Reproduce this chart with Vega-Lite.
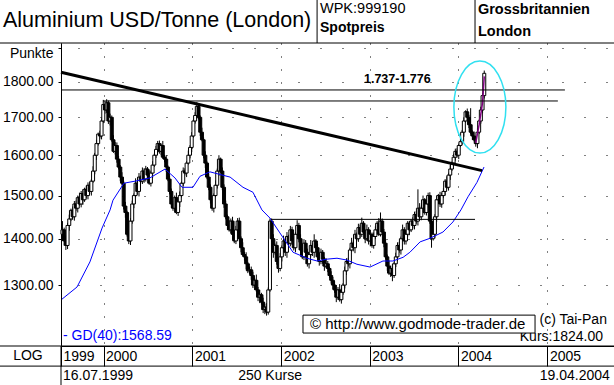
{
"$schema": "https://vega.github.io/schema/vega-lite/v6.json",
"width": 553, "height": 303,
"autosize": {"type": "none"},
"padding": {"left": 61, "top": 43, "right": 0, "bottom": 39},
"background": "white",
"config": {"view": {"stroke": null}, "font": "Liberation Sans", "text": {"font": "Liberation Sans", "color": "black"}},
"datasets": {
"px": [
{"d":"1999-07-16","o":1410,"h":1440,"l":1395,"c":1420},
{"d":"1999-07-23","o":1420,"h":1425,"l":1385,"c":1395},
{"d":"1999-07-30","o":1395,"h":1407,"l":1375,"c":1385},
{"d":"1999-08-06","o":1385,"h":1436,"l":1377,"c":1430},
{"d":"1999-08-13","o":1430,"h":1455,"l":1418,"c":1445},
{"d":"1999-08-20","o":1445,"h":1469,"l":1440,"c":1465},
{"d":"1999-08-27","o":1465,"h":1474,"l":1443,"c":1450},
{"d":"1999-09-03","o":1450,"h":1487,"l":1441,"c":1480},
{"d":"1999-09-10","o":1480,"h":1488,"l":1464,"c":1470},
{"d":"1999-09-17","o":1470,"h":1500,"l":1460,"c":1495},
{"d":"1999-09-24","o":1495,"h":1507,"l":1476,"c":1480},
{"d":"1999-10-01","o":1480,"h":1511,"l":1472,"c":1505},
{"d":"1999-10-08","o":1505,"h":1515,"l":1478,"c":1490},
{"d":"1999-10-15","o":1490,"h":1519,"l":1485,"c":1515},
{"d":"1999-10-22","o":1515,"h":1524,"l":1493,"c":1500},
{"d":"1999-10-29","o":1500,"h":1532,"l":1491,"c":1525},
{"d":"1999-11-05","o":1525,"h":1533,"l":1504,"c":1510},
{"d":"1999-11-12","o":1510,"h":1540,"l":1500,"c":1535},
{"d":"1999-11-19","o":1535,"h":1572,"l":1531,"c":1560},
{"d":"1999-11-26","o":1560,"h":1606,"l":1552,"c":1600},
{"d":"1999-12-03","o":1600,"h":1640,"l":1588,"c":1630},
{"d":"1999-12-10","o":1630,"h":1659,"l":1625,"c":1655},
{"d":"1999-12-17","o":1655,"h":1664,"l":1643,"c":1650},
{"d":"1999-12-24","o":1650,"h":1697,"l":1641,"c":1690},
{"d":"1999-12-31","o":1690,"h":1748,"l":1684,"c":1735},
{"d":"2000-01-07","o":1735,"h":1745,"l":1710,"c":1720},
{"d":"2000-01-14","o":1720,"h":1750,"l":1712,"c":1740},
{"d":"2000-01-21","o":1740,"h":1746,"l":1682,"c":1690},
{"d":"2000-01-28","o":1690,"h":1710,"l":1678,"c":1700},
{"d":"2000-02-04","o":1700,"h":1705,"l":1635,"c":1640},
{"d":"2000-02-11","o":1640,"h":1652,"l":1606,"c":1610},
{"d":"2000-02-18","o":1610,"h":1634,"l":1602,"c":1625},
{"d":"2000-02-25","o":1625,"h":1633,"l":1581,"c":1590},
{"d":"2000-03-03","o":1590,"h":1598,"l":1564,"c":1570},
{"d":"2000-03-10","o":1570,"h":1575,"l":1535,"c":1545},
{"d":"2000-03-17","o":1545,"h":1557,"l":1526,"c":1530},
{"d":"2000-03-24","o":1530,"h":1536,"l":1467,"c":1475},
{"d":"2000-03-31","o":1475,"h":1485,"l":1448,"c":1460},
{"d":"2000-04-07","o":1460,"h":1464,"l":1405,"c":1410},
{"d":"2000-04-14","o":1410,"h":1419,"l":1388,"c":1395},
{"d":"2000-04-21","o":1395,"h":1447,"l":1386,"c":1440},
{"d":"2000-04-28","o":1440,"h":1488,"l":1434,"c":1480},
{"d":"2000-05-05","o":1480,"h":1505,"l":1470,"c":1500},
{"d":"2000-05-12","o":1500,"h":1542,"l":1496,"c":1530},
{"d":"2000-05-19","o":1530,"h":1536,"l":1502,"c":1510},
{"d":"2000-05-26","o":1510,"h":1555,"l":1498,"c":1545},
{"d":"2000-06-02","o":1545,"h":1549,"l":1530,"c":1535},
{"d":"2000-06-09","o":1535,"h":1569,"l":1528,"c":1560},
{"d":"2000-06-16","o":1560,"h":1567,"l":1531,"c":1540},
{"d":"2000-06-23","o":1540,"h":1573,"l":1534,"c":1565},
{"d":"2000-06-30","o":1565,"h":1570,"l":1540,"c":1550},
{"d":"2000-07-07","o":1550,"h":1562,"l":1526,"c":1530},
{"d":"2000-07-14","o":1530,"h":1561,"l":1522,"c":1555},
{"d":"2000-07-21","o":1555,"h":1585,"l":1543,"c":1575},
{"d":"2000-07-28","o":1575,"h":1604,"l":1570,"c":1600},
{"d":"2000-08-04","o":1600,"h":1624,"l":1593,"c":1615},
{"d":"2000-08-11","o":1615,"h":1637,"l":1606,"c":1630},
{"d":"2000-08-18","o":1630,"h":1638,"l":1604,"c":1610},
{"d":"2000-08-25","o":1610,"h":1630,"l":1600,"c":1625},
{"d":"2000-09-01","o":1625,"h":1637,"l":1591,"c":1595},
{"d":"2000-09-08","o":1595,"h":1601,"l":1582,"c":1590},
{"d":"2000-09-15","o":1590,"h":1600,"l":1558,"c":1570},
{"d":"2000-09-22","o":1570,"h":1574,"l":1535,"c":1540},
{"d":"2000-09-29","o":1540,"h":1549,"l":1503,"c":1510},
{"d":"2000-10-06","o":1510,"h":1517,"l":1471,"c":1480},
{"d":"2000-10-13","o":1480,"h":1488,"l":1464,"c":1470},
{"d":"2000-10-20","o":1470,"h":1500,"l":1460,"c":1495},
{"d":"2000-10-27","o":1495,"h":1507,"l":1456,"c":1460},
{"d":"2000-11-03","o":1460,"h":1491,"l":1452,"c":1485},
{"d":"2000-11-10","o":1485,"h":1510,"l":1473,"c":1500},
{"d":"2000-11-17","o":1500,"h":1534,"l":1495,"c":1530},
{"d":"2000-11-24","o":1530,"h":1569,"l":1523,"c":1560},
{"d":"2000-12-01","o":1560,"h":1567,"l":1549,"c":1555},
{"d":"2000-12-08","o":1555,"h":1585,"l":1545,"c":1580},
{"d":"2000-12-15","o":1580,"h":1612,"l":1576,"c":1600},
{"d":"2000-12-22","o":1600,"h":1626,"l":1592,"c":1620},
{"d":"2000-12-29","o":1620,"h":1660,"l":1608,"c":1650},
{"d":"2001-01-05","o":1650,"h":1694,"l":1645,"c":1690},
{"d":"2001-01-12","o":1690,"h":1714,"l":1683,"c":1705},
{"d":"2001-01-19","o":1705,"h":1742,"l":1696,"c":1730},
{"d":"2001-01-26","o":1730,"h":1738,"l":1694,"c":1700},
{"d":"2001-02-02","o":1700,"h":1705,"l":1650,"c":1660},
{"d":"2001-02-09","o":1660,"h":1672,"l":1636,"c":1640},
{"d":"2001-02-16","o":1640,"h":1646,"l":1592,"c":1600},
{"d":"2001-02-23","o":1600,"h":1610,"l":1568,"c":1580},
{"d":"2001-03-02","o":1580,"h":1584,"l":1540,"c":1545},
{"d":"2001-03-09","o":1545,"h":1554,"l":1513,"c":1520},
{"d":"2001-03-16","o":1520,"h":1527,"l":1481,"c":1490},
{"d":"2001-03-23","o":1490,"h":1498,"l":1464,"c":1470},
{"d":"2001-03-30","o":1470,"h":1505,"l":1460,"c":1500},
{"d":"2001-04-06","o":1500,"h":1537,"l":1496,"c":1525},
{"d":"2001-04-13","o":1525,"h":1566,"l":1517,"c":1560},
{"d":"2001-04-20","o":1560,"h":1600,"l":1548,"c":1590},
{"d":"2001-04-27","o":1590,"h":1594,"l":1555,"c":1560},
{"d":"2001-05-04","o":1560,"h":1569,"l":1513,"c":1520},
{"d":"2001-05-11","o":1520,"h":1527,"l":1471,"c":1480},
{"d":"2001-05-18","o":1480,"h":1488,"l":1444,"c":1450},
{"d":"2001-05-25","o":1450,"h":1455,"l":1420,"c":1430},
{"d":"2001-06-01","o":1430,"h":1442,"l":1416,"c":1420},
{"d":"2001-06-08","o":1420,"h":1446,"l":1412,"c":1440},
{"d":"2001-06-15","o":1440,"h":1450,"l":1398,"c":1410},
{"d":"2001-06-22","o":1410,"h":1414,"l":1390,"c":1395},
{"d":"2001-06-29","o":1395,"h":1429,"l":1388,"c":1420},
{"d":"2001-07-06","o":1420,"h":1447,"l":1411,"c":1440},
{"d":"2001-07-13","o":1440,"h":1448,"l":1394,"c":1400},
{"d":"2001-07-20","o":1400,"h":1405,"l":1370,"c":1380},
{"d":"2001-07-27","o":1380,"h":1392,"l":1361,"c":1365},
{"d":"2001-08-03","o":1365,"h":1371,"l":1352,"c":1360},
{"d":"2001-08-10","o":1360,"h":1370,"l":1333,"c":1345},
{"d":"2001-08-17","o":1345,"h":1349,"l":1325,"c":1330},
{"d":"2001-08-24","o":1330,"h":1339,"l":1323,"c":1332},
{"d":"2001-08-31","o":1332,"h":1339,"l":1311,"c":1320},
{"d":"2001-09-07","o":1320,"h":1328,"l":1294,"c":1300},
{"d":"2001-09-14","o":1300,"h":1315,"l":1290,"c":1310},
{"d":"2001-09-21","o":1310,"h":1322,"l":1286,"c":1290},
{"d":"2001-09-28","o":1290,"h":1296,"l":1267,"c":1275},
{"d":"2001-10-05","o":1275,"h":1290,"l":1263,"c":1280},
{"d":"2001-10-12","o":1280,"h":1284,"l":1260,"c":1265},
{"d":"2001-10-19","o":1265,"h":1274,"l":1243,"c":1250},
{"d":"2001-10-26","o":1250,"h":1262,"l":1241,"c":1255},
{"d":"2001-11-02","o":1255,"h":1263,"l":1238,"c":1245},
{"d":"2001-11-09","o":1245,"h":1295,"l":1240,"c":1290},
{"d":"2001-11-16","o":1290,"h":1446,"l":1286,"c":1440},
{"d":"2001-11-23","o":1440,"h":1446,"l":1392,"c":1400},
{"d":"2001-11-30","o":1400,"h":1410,"l":1358,"c":1370},
{"d":"2001-12-07","o":1370,"h":1389,"l":1365,"c":1385},
{"d":"2001-12-14","o":1385,"h":1394,"l":1343,"c":1350},
{"d":"2001-12-21","o":1350,"h":1357,"l":1326,"c":1335},
{"d":"2001-12-28","o":1335,"h":1368,"l":1329,"c":1360},
{"d":"2002-01-04","o":1360,"h":1385,"l":1350,"c":1380},
{"d":"2002-01-11","o":1380,"h":1407,"l":1376,"c":1395},
{"d":"2002-01-18","o":1395,"h":1401,"l":1362,"c":1370},
{"d":"2002-01-25","o":1370,"h":1415,"l":1358,"c":1405},
{"d":"2002-02-01","o":1405,"h":1409,"l":1385,"c":1390},
{"d":"2002-02-08","o":1390,"h":1429,"l":1383,"c":1420},
{"d":"2002-02-15","o":1420,"h":1427,"l":1386,"c":1395},
{"d":"2002-02-22","o":1395,"h":1403,"l":1374,"c":1380},
{"d":"2002-03-01","o":1380,"h":1415,"l":1370,"c":1410},
{"d":"2002-03-08","o":1410,"h":1442,"l":1406,"c":1430},
{"d":"2002-03-15","o":1430,"h":1436,"l":1392,"c":1400},
{"d":"2002-03-22","o":1400,"h":1410,"l":1363,"c":1375},
{"d":"2002-03-29","o":1375,"h":1379,"l":1355,"c":1360},
{"d":"2002-04-05","o":1360,"h":1399,"l":1353,"c":1390},
{"d":"2002-04-12","o":1390,"h":1397,"l":1361,"c":1370},
{"d":"2002-04-19","o":1370,"h":1378,"l":1339,"c":1345},
{"d":"2002-04-26","o":1345,"h":1370,"l":1335,"c":1365},
{"d":"2002-05-03","o":1365,"h":1397,"l":1361,"c":1385},
{"d":"2002-05-10","o":1385,"h":1391,"l":1362,"c":1370},
{"d":"2002-05-17","o":1370,"h":1410,"l":1358,"c":1395},
{"d":"2002-05-24","o":1395,"h":1399,"l":1375,"c":1380},
{"d":"2002-05-31","o":1380,"h":1389,"l":1353,"c":1360},
{"d":"2002-06-07","o":1360,"h":1367,"l":1341,"c":1350},
{"d":"2002-06-14","o":1350,"h":1378,"l":1344,"c":1370},
{"d":"2002-06-21","o":1370,"h":1375,"l":1345,"c":1355},
{"d":"2002-06-28","o":1355,"h":1360,"l":1330,"c":1340},
{"d":"2002-07-05","o":1340,"h":1357,"l":1336,"c":1345},
{"d":"2002-07-12","o":1345,"h":1351,"l":1327,"c":1335},
{"d":"2002-07-19","o":1335,"h":1339,"l":1315,"c":1320},
{"d":"2002-07-26","o":1320,"h":1329,"l":1303,"c":1310},
{"d":"2002-08-02","o":1310,"h":1317,"l":1291,"c":1300},
{"d":"2002-08-09","o":1300,"h":1308,"l":1284,"c":1290},
{"d":"2002-08-16","o":1290,"h":1300,"l":1265,"c":1275},
{"d":"2002-08-23","o":1275,"h":1296,"l":1270,"c":1290},
{"d":"2002-08-30","o":1290,"h":1302,"l":1266,"c":1270},
{"d":"2002-09-06","o":1270,"h":1294,"l":1262,"c":1285},
{"d":"2002-09-13","o":1285,"h":1304,"l":1280,"c":1300},
{"d":"2002-09-20","o":1300,"h":1339,"l":1293,"c":1330},
{"d":"2002-09-27","o":1330,"h":1357,"l":1321,"c":1350},
{"d":"2002-10-04","o":1350,"h":1358,"l":1339,"c":1345},
{"d":"2002-10-11","o":1345,"h":1380,"l":1335,"c":1375},
{"d":"2002-10-18","o":1375,"h":1402,"l":1371,"c":1390},
{"d":"2002-10-25","o":1390,"h":1396,"l":1372,"c":1380},
{"d":"2002-11-01","o":1380,"h":1420,"l":1368,"c":1410},
{"d":"2002-11-08","o":1410,"h":1414,"l":1395,"c":1400},
{"d":"2002-11-15","o":1400,"h":1434,"l":1393,"c":1425},
{"d":"2002-11-22","o":1425,"h":1432,"l":1401,"c":1410},
{"d":"2002-11-29","o":1410,"h":1448,"l":1404,"c":1435},
{"d":"2002-12-06","o":1435,"h":1440,"l":1410,"c":1415},
{"d":"2002-12-13","o":1415,"h":1420,"l":1390,"c":1400},
{"d":"2002-12-20","o":1400,"h":1432,"l":1396,"c":1420},
{"d":"2002-12-27","o":1420,"h":1426,"l":1387,"c":1395},
{"d":"2003-01-03","o":1395,"h":1420,"l":1383,"c":1410},
{"d":"2003-01-10","o":1410,"h":1414,"l":1380,"c":1385},
{"d":"2003-01-17","o":1385,"h":1414,"l":1378,"c":1405},
{"d":"2003-01-24","o":1405,"h":1428,"l":1399,"c":1420},
{"d":"2003-01-31","o":1420,"h":1440,"l":1410,"c":1435},
{"d":"2003-02-07","o":1435,"h":1447,"l":1406,"c":1410},
{"d":"2003-02-14","o":1410,"h":1460,"l":1405,"c":1440},
{"d":"2003-02-21","o":1440,"h":1446,"l":1407,"c":1415},
{"d":"2003-02-28","o":1415,"h":1422,"l":1381,"c":1390},
{"d":"2003-03-07","o":1390,"h":1398,"l":1354,"c":1360},
{"d":"2003-03-14","o":1360,"h":1365,"l":1330,"c":1340},
{"d":"2003-03-21","o":1340,"h":1352,"l":1321,"c":1325},
{"d":"2003-03-28","o":1325,"h":1341,"l":1317,"c":1335},
{"d":"2003-04-04","o":1335,"h":1345,"l":1308,"c":1320},
{"d":"2003-04-11","o":1320,"h":1349,"l":1315,"c":1345},
{"d":"2003-04-18","o":1345,"h":1369,"l":1338,"c":1360},
{"d":"2003-04-25","o":1360,"h":1392,"l":1351,"c":1385},
{"d":"2003-05-02","o":1385,"h":1393,"l":1369,"c":1375},
{"d":"2003-05-09","o":1375,"h":1405,"l":1365,"c":1400},
{"d":"2003-05-16","o":1400,"h":1432,"l":1396,"c":1420},
{"d":"2003-05-23","o":1420,"h":1426,"l":1387,"c":1395},
{"d":"2003-05-30","o":1395,"h":1420,"l":1387,"c":1410},
{"d":"2003-06-06","o":1410,"h":1440,"l":1405,"c":1435},
{"d":"2003-06-13","o":1435,"h":1440,"l":1408,"c":1420},
{"d":"2003-06-20","o":1420,"h":1444,"l":1415,"c":1440},
{"d":"2003-06-27","o":1440,"h":1449,"l":1423,"c":1430},
{"d":"2003-07-04","o":1430,"h":1462,"l":1421,"c":1455},
{"d":"2003-07-11","o":1455,"h":1463,"l":1434,"c":1440},
{"d":"2003-07-18","o":1440,"h":1515,"l":1430,"c":1470},
{"d":"2003-07-25","o":1470,"h":1482,"l":1446,"c":1450},
{"d":"2003-08-01","o":1450,"h":1476,"l":1442,"c":1470},
{"d":"2003-08-08","o":1470,"h":1500,"l":1458,"c":1490},
{"d":"2003-08-15","o":1490,"h":1494,"l":1455,"c":1460},
{"d":"2003-08-22","o":1460,"h":1489,"l":1453,"c":1480},
{"d":"2003-08-29","o":1480,"h":1507,"l":1471,"c":1500},
{"d":"2003-09-05","o":1500,"h":1508,"l":1434,"c":1440},
{"d":"2003-09-12","o":1440,"h":1445,"l":1380,"c":1400},
{"d":"2003-09-19","o":1400,"h":1422,"l":1396,"c":1410},
{"d":"2003-09-26","o":1410,"h":1456,"l":1402,"c":1450},
{"d":"2003-10-03","o":1450,"h":1500,"l":1438,"c":1490},
{"d":"2003-10-10","o":1490,"h":1504,"l":1485,"c":1500},
{"d":"2003-10-17","o":1500,"h":1509,"l":1473,"c":1480},
{"d":"2003-10-24","o":1480,"h":1507,"l":1471,"c":1500},
{"d":"2003-10-31","o":1500,"h":1518,"l":1494,"c":1510},
{"d":"2003-11-07","o":1510,"h":1540,"l":1500,"c":1535},
{"d":"2003-11-14","o":1535,"h":1547,"l":1516,"c":1520},
{"d":"2003-11-21","o":1520,"h":1556,"l":1512,"c":1550},
{"d":"2003-11-28","o":1550,"h":1575,"l":1538,"c":1565},
{"d":"2003-12-05","o":1565,"h":1584,"l":1560,"c":1580},
{"d":"2003-12-12","o":1580,"h":1604,"l":1573,"c":1595},
{"d":"2003-12-19","o":1595,"h":1617,"l":1586,"c":1610},
{"d":"2003-12-26","o":1610,"h":1618,"l":1594,"c":1600},
{"d":"2004-01-02","o":1600,"h":1630,"l":1590,"c":1625},
{"d":"2004-01-09","o":1625,"h":1647,"l":1621,"c":1635},
{"d":"2004-01-16","o":1635,"h":1666,"l":1627,"c":1660},
{"d":"2004-01-23","o":1660,"h":1700,"l":1648,"c":1690},
{"d":"2004-01-30","o":1690,"h":1719,"l":1685,"c":1715},
{"d":"2004-02-06","o":1715,"h":1724,"l":1693,"c":1700},
{"d":"2004-02-13","o":1700,"h":1707,"l":1671,"c":1680},
{"d":"2004-02-20","o":1680,"h":1725,"l":1654,"c":1660},
{"d":"2004-02-27","o":1660,"h":1665,"l":1640,"c":1650},
{"d":"2004-03-05","o":1650,"h":1662,"l":1636,"c":1640},
{"d":"2004-03-12","o":1640,"h":1646,"l":1622,"c":1630},
{"d":"2004-03-19","o":1630,"h":1670,"l":1618,"c":1660},
{"d":"2004-03-26","o":1660,"h":1694,"l":1655,"c":1690},
{"d":"2004-04-02","o":1690,"h":1729,"l":1683,"c":1720},
{"d":"2004-04-09","o":1720,"h":1767,"l":1711,"c":1760},
{"d":"2004-04-16","o":1760,"h":1832,"l":1752,"c":1824}
],
"ma": [
{"d":"1999-07-14","v":1271},{"d":"1999-09-14","v":1296},{"d":"1999-11-06","v":1349},{"d":"1999-12-26","v":1424},
{"d":"2000-01-28","v":1466},{"d":"2000-02-09","v":1489},{"d":"2000-03-25","v":1530},{"d":"2000-05-10","v":1535},
{"d":"2000-07-10","v":1543},{"d":"2000-09-10","v":1565},{"d":"2000-10-21","v":1543},{"d":"2000-11-19","v":1520},
{"d":"2001-01-03","v":1520},{"d":"2001-02-01","v":1547},{"d":"2001-03-14","v":1558},{"d":"2001-06-05","v":1545},
{"d":"2001-07-28","v":1520},{"d":"2001-09-07","v":1508},{"d":"2001-10-14","v":1466},{"d":"2001-11-16","v":1447},
{"d":"2001-12-27","v":1413},{"d":"2002-02-19","v":1370},{"d":"2002-04-17","v":1357},{"d":"2002-05-29","v":1351},
{"d":"2002-07-09","v":1355},{"d":"2002-08-19","v":1357},{"d":"2002-09-29","v":1353},{"d":"2002-11-09","v":1344},
{"d":"2003-01-02","v":1338},{"d":"2003-02-24","v":1351},{"d":"2003-04-06","v":1351},{"d":"2003-05-18","v":1359},
{"d":"2003-06-15","v":1370},{"d":"2003-07-27","v":1393},{"d":"2003-09-06","v":1401},{"d":"2003-10-29","v":1415},
{"d":"2003-12-09","v":1438},{"d":"2004-01-11","v":1466},{"d":"2004-02-09","v":1497},{"d":"2004-03-17","v":1532},
{"d":"2004-04-15","v":1570}
],
"pl": [
{"d":"2004-03-12","v":1632},{"d":"2004-03-26","v":1680},{"d":"2004-04-09","v":1740},{"d":"2004-04-16","v":1815}
]
},
"data": {"name": "px"},
"layer": [
{"mark": {"type": "rule", "color": "black", "strokeWidth": 1},
 "encoding": {
  "x": {"field": "d", "type": "temporal",
    "scale": {"type": "time", "domain": [{"year":1999,"month":7,"date":10},{"year":2005,"month":10,"date":2}], "nice": false, "padding": 0},
    "axis": {"title": null,
      "values": [{"year":1999,"month":7,"date":10},{"year":2000,"month":1,"date":1},{"year":2001,"month":1,"date":1},{"year":2002,"month":1,"date":1},{"year":2003,"month":1,"date":1},{"year":2004,"month":1,"date":1},{"year":2005,"month":1,"date":1}],
      "labelExpr": "timeFormat(datum.value, '%Y')",
      "labelAlign": "left", "labelBaseline": "middle", "labelOffset": 2, "labelPadding": -10,
      "labelFontSize": 14, "labelColor": "black", "labelFont": "Liberation Sans",
      "labelFlush": false, "labelOverlap": false, "labelBound": false,
      "tickSize": 20, "tickColor": "black", "tickWidth": 1,
      "domainColor": "black", "domainWidth": 1,
      "grid": true, "gridColor": "black", "gridDash": [1, 12], "gridWidth": 1, "gridOpacity": 1}},
  "y": {"field": "l", "type": "quantitative",
    "scale": {"type": "log", "domain": [1179.3, 1914.5], "nice": false, "zero": false, "padding": 0},
    "axis": {"title": "Punkte", "titleAngle": 0, "titleAlign": "right", "titleBaseline": "middle", "titleX": -8, "titleY": 10,
      "titleFontSize": 14, "titleFontWeight": "normal", "titleColor": "black", "titleFont": "Liberation Sans",
      "values": [1300, 1400, 1500, 1600, 1700, 1800, 1900],
      "labelExpr": "datum.value >= 1900 ? '' : format(datum.value, '.2f')",
      "labelFontSize": 14, "labelColor": "black", "labelFont": "Liberation Sans", "labelPadding": 5,
      "labelFlush": false, "labelOverlap": false,
      "tickSize": 3, "tickColor": "black", "domainColor": "black",
      "grid": true, "gridColor": "black", "gridDash": [1, 21], "gridDashOffset": 5, "gridOpacity": 1}},
  "y2": {"field": "h"}
 }},
{"mark": {"type": "bar", "width": 3, "stroke": "black", "strokeWidth": 1},
 "encoding": {
  "x": {"field": "d", "type": "temporal"},
  "y": {"field": "o", "type": "quantitative"},
  "y2": {"field": "c"},
  "fill": {"condition": {"test": "datum.c >= datum.o", "value": "white"}, "value": "black"}
 }},
{"data": {"name": "pl"}, "mark": {"type": "line", "color": "#800080", "strokeWidth": 1.5},
 "encoding": {"x": {"field": "d", "type": "temporal"}, "y": {"field": "v", "type": "quantitative"}}},
{"data": {"name": "ma"}, "mark": {"type": "line", "color": "#0000ff", "strokeWidth": 1},
 "encoding": {"x": {"field": "d", "type": "temporal"}, "y": {"field": "v", "type": "quantitative"}}},
{"data": {"values": [{}]}, "mark": {"type": "rule", "color": "black", "strokeWidth": 1},
 "encoding": {"x": {"datum": {"year":1999,"month":7,"date":10}, "type": "temporal"}, "x2": {"datum": {"year":2005,"month":3,"date":14}}, "y": {"datum": 1776, "type": "quantitative"}}},
{"data": {"values": [{}]}, "mark": {"type": "rule", "color": "black", "strokeWidth": 1},
 "encoding": {"x": {"datum": {"year":1999,"month":12,"date":30}, "type": "temporal"}, "x2": {"datum": {"year":2005,"month":2,"date":13}}, "y": {"datum": 1745, "type": "quantitative"}}},
{"data": {"values": [{}]}, "mark": {"type": "rule", "color": "black", "strokeWidth": 1},
 "encoding": {"x": {"datum": {"year":2001,"month":11,"date":20}, "type": "temporal"}, "x2": {"datum": {"year":2004,"month":3,"date":9}}, "y": {"datum": 1444, "type": "quantitative"}}},
{"data": {"values": [{}]}, "mark": {"type": "rule", "color": "black", "strokeWidth": 3},
 "encoding": {"x": {"datum": {"year":1999,"month":7,"date":10}, "type": "temporal"}, "x2": {"datum": {"year":2004,"month":4,"date":7}}, "y": {"datum": 1827, "type": "quantitative"}, "y2": {"datum": 1561}}},
{"data": {"values": [{}]}, "mark": {"type": "point", "shape": "M 0.5652 0 C 0.5652 0.5523 0.3122 1 0 1 C -0.3122 1 -0.5652 0.5523 -0.5652 0 C -0.5652 -0.5523 -0.3122 -1 0 -1 C 0.3122 -1 0.5652 -0.5523 0.5652 0 Z", "size": 8464, "filled": false, "color": "#30e0f0", "strokeWidth": 1.5, "opacity": 1},
 "encoding": {"x": {"datum": {"year":2004,"month":3,"date":29}, "type": "temporal"}, "y": {"datum": 1728, "type": "quantitative"}}},
{"data": {"values": [{}]}, "mark": {"type": "rule", "color": "black", "strokeWidth": 1},
 "encoding": {"x": {"datum": {"year":1998,"month":9,"date":1}, "type": "temporal"}, "x2": {"datum": {"year":2006,"month":1,"date":1}}, "y": {"datum": 1914.5, "type": "quantitative"}}},
{"data": {"values": [{}]}, "mark": {"type": "rule", "color": "black", "strokeWidth": 1},
 "encoding": {"x": {"datum": {"year":1998,"month":9,"date":1}, "type": "temporal"}, "x2": {"datum": {"year":2006,"month":1,"date":1}}, "y": {"datum": 1179.3, "type": "quantitative"}}},
{"data": {"values": [{}]}, "mark": {"type": "rule", "color": "black", "strokeWidth": 1},
 "encoding": {"x": {"datum": {"year":1998,"month":9,"date":1}, "type": "temporal"}, "x2": {"datum": {"year":2006,"month":1,"date":1}}, "y": {"datum": 1142, "type": "quantitative"}}},
{"data": {"values": [{}]}, "mark": {"type": "rule", "color": "black", "strokeWidth": 1},
 "encoding": {"x": {"datum": {"year":1999,"month":7,"date":10}, "type": "temporal"}, "y": {"datum": 1179.3, "type": "quantitative"}, "y2": {"datum": 1090}}},
{"data": {"values": [{}]}, "mark": {"type": "rule", "color": "black", "strokeWidth": 1},
 "encoding": {"x": {"datum": {"year":2002,"month":5,"date":29}, "type": "temporal"}, "y": {"datum": 1914.5, "type": "quantitative"}, "y2": {"datum": 2100}}},
{"data": {"values": [{}]}, "mark": {"type": "rule", "color": "black", "strokeWidth": 1},
 "encoding": {"x": {"datum": {"year":2004,"month":3,"date":9}, "type": "temporal"}, "y": {"datum": 1914.5, "type": "quantitative"}, "y2": {"datum": 2100}}},
{"data": {"values": [{}]}, "mark": {"type": "text", "align": "left", "baseline": "alphabetic", "fontSize": 21.5, "text": "Aluminium USD/Tonne (London)"},
 "encoding": {"x": {"datum": {"year":1998,"month":11,"date":13}, "type": "temporal"}, "y": {"datum": 1964, "type": "quantitative"}}},
{"data": {"values": [{}]}, "mark": {"type": "text", "align": "left", "baseline": "alphabetic", "fontSize": 14.5, "text": "WPK:999190"},
 "encoding": {"x": {"datum": {"year":2002,"month":6,"date":10}, "type": "temporal"}, "y": {"datum": 2009, "type": "quantitative"}}},
{"data": {"values": [{}]}, "mark": {"type": "text", "align": "left", "baseline": "alphabetic", "fontSize": 14, "fontWeight": "bold", "text": "Spotpreis"},
 "encoding": {"x": {"datum": {"year":2002,"month":6,"date":10}, "type": "temporal"}, "y": {"datum": 1950, "type": "quantitative"}}},
{"data": {"values": [{}]}, "mark": {"type": "text", "align": "left", "baseline": "alphabetic", "fontSize": 14.5, "fontWeight": "bold", "text": "Grossbritannien"},
 "encoding": {"x": {"datum": {"year":2004,"month":3,"date":21}, "type": "temporal"}, "y": {"datum": 2005, "type": "quantitative"}}},
{"data": {"values": [{}]}, "mark": {"type": "text", "align": "left", "baseline": "alphabetic", "fontSize": 14.5, "fontWeight": "bold", "text": "London"},
 "encoding": {"x": {"datum": {"year":2004,"month":3,"date":21}, "type": "temporal"}, "y": {"datum": 1936, "type": "quantitative"}}},
{"data": {"values": [{}]}, "mark": {"type": "text", "align": "left", "baseline": "middle", "fontSize": 12.5, "fontWeight": "bold", "text": "1.737-1.776"},
 "encoding": {"x": {"datum": {"year":2002,"month":12,"date":8}, "type": "temporal"}, "y": {"datum": 1807, "type": "quantitative"}}},
{"data": {"values": [{}]}, "mark": {"type": "text", "align": "left", "baseline": "middle", "fontSize": 14, "color": "#0000ff", "text": "- GD(40):1568.59"},
 "encoding": {"x": {"datum": {"year":1999,"month":7,"date":18}, "type": "temporal"}, "y": {"datum": 1198, "type": "quantitative"}}},
{"data": {"values": [{}]}, "mark": {"type": "text", "align": "right", "baseline": "middle", "fontSize": 14, "text": "(c) Tai-Pan"},
 "encoding": {"x": {"datum": {"year":2005,"month":9,"date":3}, "type": "temporal"}, "y": {"datum": 1230, "type": "quantitative"}}},
{"data": {"values": [{}]}, "mark": {"type": "text", "align": "right", "baseline": "middle", "fontSize": 14, "text": "Kurs:1824.00"},
 "encoding": {"x": {"datum": {"year":2005,"month":8,"date":18}, "type": "temporal"}, "y": {"datum": 1196.3, "type": "quantitative"}}},
{"data": {"values": [{}]}, "mark": {"type": "rect", "fill": "white", "stroke": "black", "strokeWidth": 1},
 "encoding": {"x": {"datum": {"year":2002,"month":4,"date":1}, "type": "temporal"}, "x2": {"datum": {"year":2004,"month":11,"date":11}}, "y": {"datum": 1239, "type": "quantitative"}, "y2": {"datum": 1204}}},
{"data": {"values": [{}]}, "mark": {"type": "text", "align": "left", "baseline": "middle", "fontSize": 15, "text": "© http://www.godmode-trader.de"},
 "encoding": {"x": {"datum": {"year":2002,"month":4,"date":30}, "type": "temporal"}, "y": {"datum": 1221.5, "type": "quantitative"}}},
{"data": {"values": [{}]}, "mark": {"type": "text", "align": "center", "baseline": "middle", "fontSize": 14, "text": "LOG"},
 "encoding": {"x": {"datum": {"year":1999,"month":2,"date":24}, "type": "temporal"}, "y": {"datum": 1160.5, "type": "quantitative"}}},
{"data": {"values": [{}]}, "mark": {"type": "text", "align": "left", "baseline": "middle", "fontSize": 14, "text": "16.07.1999"},
 "encoding": {"x": {"datum": {"year":1999,"month":7,"date":18}, "type": "temporal"}, "y": {"datum": 1124, "type": "quantitative"}}},
{"data": {"values": [{}]}, "mark": {"type": "text", "align": "left", "baseline": "middle", "fontSize": 14, "text": "250 Kurse"},
 "encoding": {"x": {"datum": {"year":2001,"month":7,"date":8}, "type": "temporal"}, "y": {"datum": 1124, "type": "quantitative"}}},
{"data": {"values": [{}]}, "mark": {"type": "text", "align": "right", "baseline": "middle", "fontSize": 14, "text": "19.04.2004"},
 "encoding": {"x": {"datum": {"year":2005,"month":9,"date":15}, "type": "temporal"}, "y": {"datum": 1124, "type": "quantitative"}}}
]
}
